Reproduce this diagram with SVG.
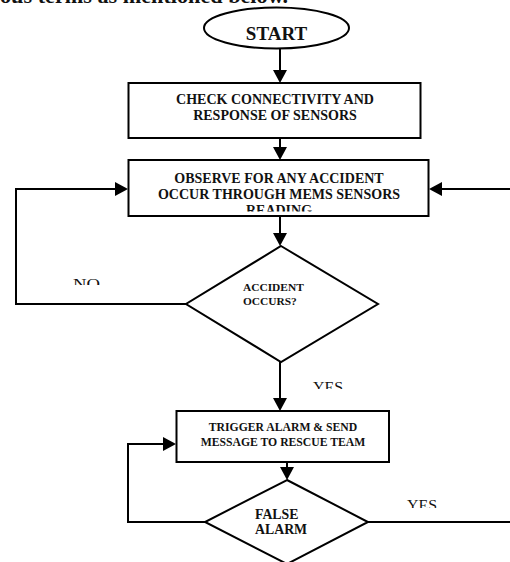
<svg xmlns="http://www.w3.org/2000/svg" width="510" height="562" viewBox="0 0 510 562">
<style>
.shape{fill:#fff;stroke:#000;stroke-width:2}
.conn{fill:none;stroke:#000;stroke-width:2}
.t{font-family:"Liberation Serif","Times New Roman",serif;font-weight:bold;fill:#111}
.lbl{font-family:"Liberation Serif","Times New Roman",serif;font-size:15px;fill:#111}
</style>
<defs>
<marker id="ah" markerUnits="userSpaceOnUse" markerWidth="14" markerHeight="14" refX="9" refY="7" orient="auto">
<path d="M0,0 L13,7 L0,14 Z" fill="#000"/>
</marker>
<clipPath id="cNo"><rect x="0" y="0" width="510" height="285"/></clipPath>
<clipPath id="cYes1"><rect x="0" y="0" width="510" height="389"/></clipPath>
<clipPath id="cYes2"><rect x="0" y="0" width="510" height="508"/></clipPath>
<clipPath id="cRead"><rect x="0" y="0" width="510" height="211.5"/></clipPath>
</defs>
<rect width="510" height="562" fill="#fff"/>
<text class="lbl" x="0" y="3" textLength="288" lengthAdjust="spacingAndGlyphs" style="font-size:22px;font-weight:bold">ous terms as mentioned below.</text>

<g id="connectors">
<path class="conn" d="M280,49 V79" marker-end="url(#ah)"/>
<path class="conn" d="M280,138 V156" marker-end="url(#ah)"/>
<path class="conn" d="M280,216 V242" marker-end="url(#ah)"/>
<path class="conn" d="M280,362 V407" marker-end="url(#ah)"/>
<path class="conn" d="M287,462 V476" marker-end="url(#ah)"/>
<path class="conn" d="M186,304 H16 V189 H124" marker-end="url(#ah)"/>
<path class="conn" d="M510,189 H433" marker-end="url(#ah)"/>
<path class="conn" d="M205,522 H128 V444 H172" marker-end="url(#ah)"/>
<path class="conn" d="M368,522 H510"/>
<text class="lbl" x="73" y="289" textLength="27" lengthAdjust="spacingAndGlyphs" clip-path="url(#cNo)">NO</text>
<text class="lbl" x="313" y="392" textLength="30" lengthAdjust="spacingAndGlyphs" clip-path="url(#cYes1)">YES</text>
<text class="lbl" x="407" y="510" textLength="30" lengthAdjust="spacingAndGlyphs" clip-path="url(#cYes2)">YES</text>
</g>

<g id="start">
<ellipse class="shape" cx="276.5" cy="28" rx="72.5" ry="20.5"/>
<text class="t" x="276.5" y="40" text-anchor="middle" style="font-size:19px">START</text>
</g>

<g id="check">
<rect class="shape" x="128.5" y="83" width="292" height="55"/>
<text class="t" x="275" y="104" text-anchor="middle" style="font-size:14px">CHECK CONNECTIVITY AND</text>
<text class="t" x="275" y="120" text-anchor="middle" style="font-size:14px">RESPONSE OF SENSORS</text>
</g>

<g id="observe">
<rect class="shape" x="128.5" y="160" width="300" height="56"/>
<text class="t" x="279" y="183" text-anchor="middle" style="font-size:14px">OBSERVE FOR ANY ACCIDENT</text>
<text class="t" x="279" y="199" text-anchor="middle" style="font-size:14px">OCCUR THROUGH MEMS SENSORS</text>
<text class="t" x="279" y="215" text-anchor="middle" style="font-size:14px" clip-path="url(#cRead)">READING</text>
</g>

<g id="accident">
<polygon class="shape" points="281,246 378,304 281,362 186,304"/>
<text class="t" x="243" y="291" style="font-size:11.4px">ACCIDENT</text>
<text class="t" x="243" y="305" style="font-size:11.4px">OCCURS?</text>
</g>

<g id="trigger">
<rect class="shape" x="176.5" y="411" width="212.5" height="51"/>
<text class="t" x="283" y="431" text-anchor="middle" style="font-size:11.7px">TRIGGER ALARM &amp; SEND</text>
<text class="t" x="283" y="446" text-anchor="middle" style="font-size:11.7px">MESSAGE TO RESCUE TEAM</text>
</g>

<g id="falsealarm">
<polygon class="shape" points="287,480 368,522 287,564 205,522"/>
<text class="t" x="255" y="519" style="font-size:13.8px">FALSE</text>
<text class="t" x="255" y="534" style="font-size:13.8px">ALARM</text>
</g>
</svg>
